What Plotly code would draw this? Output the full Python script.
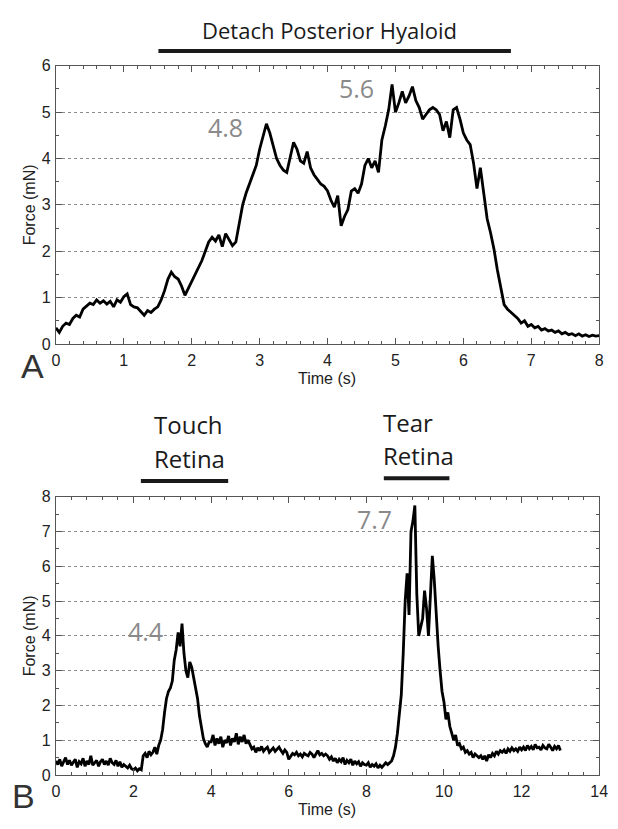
import plotly.graph_objects as go

W, H = 618, 829

# ---------------- data ----------------
dt_a = 0.05
force_a = [
    0.35, 0.25, 0.38, 0.45, 0.42, 0.55, 0.62, 0.58, 0.75, 0.82,
    0.88, 0.85, 0.95, 0.88, 0.93, 0.86, 0.92, 0.80, 0.95, 0.90,
    1.02, 1.08, 0.85, 0.80, 0.78, 0.70, 0.62, 0.72, 0.68, 0.75,
    0.80, 0.95, 1.15, 1.40, 1.55, 1.45, 1.40, 1.25, 1.05, 1.20,
    1.35, 1.50, 1.62, 1.80, 2.00, 2.20, 2.30, 2.22, 2.35, 2.10,
    2.38, 2.25, 2.12, 2.20, 2.60, 3.00, 3.25, 3.45, 3.65, 3.85,
    4.20, 4.45, 4.75, 4.55, 4.30, 4.00, 3.85, 3.75, 3.70, 4.05,
    4.35, 4.20, 3.95, 3.90, 4.15, 3.80, 3.65, 3.55, 3.45, 3.40,
    3.30, 3.10, 2.95, 3.20, 2.55, 2.75, 2.90, 3.30, 3.35, 3.25,
    3.45, 3.85, 4.00, 3.80, 3.95, 3.70, 4.40, 4.70, 5.05, 5.60,
    5.00, 5.20, 5.45, 5.20, 5.35, 5.55, 5.25, 5.10, 4.85, 4.95,
    5.05, 5.10, 5.05, 4.95, 4.60, 4.80, 4.45, 5.05, 5.10, 4.85,
    4.55, 4.40, 4.30, 3.90, 3.35, 3.80, 3.20, 2.70, 2.40, 2.05,
    1.60, 1.20, 0.85, 0.75, 0.68, 0.60, 0.55, 0.45, 0.50, 0.38,
    0.42, 0.35, 0.38, 0.30, 0.33, 0.28, 0.30, 0.25, 0.28, 0.22,
    0.25, 0.20, 0.22, 0.18, 0.22, 0.17, 0.20, 0.16, 0.19, 0.17,
    0.18,
]
time_a = [round(i * dt_a, 2) for i in range(len(force_a))]

dt_b = 0.05
force_b = [
    # 0.00 - 1.95
    0.40, 0.30, 0.45, 0.25, 0.38, 0.50, 0.30, 0.42, 0.28, 0.35,
    0.45, 0.22, 0.38, 0.32, 0.48, 0.25, 0.40, 0.30, 0.55, 0.28,
    0.35, 0.42, 0.25, 0.38, 0.45, 0.30, 0.40, 0.28, 0.48, 0.35,
    0.30, 0.42, 0.25, 0.38, 0.22, 0.30, 0.25, 0.20, 0.28, 0.18,
    # 2.00 - 2.95
    0.15, 0.20, 0.12, 0.18, 0.15,
    0.55, 0.62, 0.50, 0.68, 0.58, 0.65, 0.80, 0.60, 0.85, 1.00,
    1.30, 1.80, 2.20, 2.40, 2.50,
    # 3.00 - 3.95
    2.70, 3.30, 3.60, 4.10, 3.70, 4.35, 3.50, 3.00, 2.80, 3.25,
    3.10, 2.80, 2.50, 2.20, 1.70, 1.30, 1.05, 0.90, 0.80, 0.95,
    # 4.00 - 4.95
    0.95, 1.15, 0.85, 1.05, 0.90, 1.10, 0.80, 1.00, 0.92, 1.12,
    0.85, 1.05, 0.95, 1.20, 0.88, 1.10, 0.95, 1.15, 0.90, 1.00,
    # 5.00 - 5.95
    0.85, 0.75, 0.80, 0.65, 0.78, 0.70, 0.82, 0.68, 0.75, 0.80,
    0.65, 0.72, 0.78, 0.68, 0.74, 0.80, 0.70, 0.62, 0.72, 0.65,
    # 6.00 - 6.95
    0.45, 0.55, 0.62, 0.58, 0.65, 0.55, 0.60, 0.52, 0.62, 0.58,
    0.55, 0.65, 0.60, 0.50, 0.62, 0.70, 0.58, 0.62, 0.55, 0.60,
    # 7.00 - 7.95
    0.55, 0.45, 0.52, 0.40, 0.48, 0.35, 0.45, 0.38, 0.50, 0.30,
    0.42, 0.35, 0.45, 0.28, 0.40, 0.32, 0.38, 0.25, 0.35, 0.30,
    # 8.00 - 8.95
    0.28, 0.35, 0.22, 0.30, 0.25, 0.32, 0.20, 0.28, 0.22, 0.30,
    0.35, 0.30, 0.35, 0.40, 0.55, 0.80, 1.20, 1.70, 2.30, 3.50,
    # 9.00 - 9.95
    5.00, 5.80, 4.60, 7.00, 7.30, 7.75, 5.20, 4.00, 4.30, 4.50,
    5.30, 4.80, 4.00, 5.20, 6.30, 5.60, 4.60, 3.70, 3.00, 2.40,
    # 10.00 - 10.95
    2.10, 1.60, 1.80, 1.40, 1.20, 1.00, 1.15, 0.85, 0.90, 0.75,
    0.80, 0.65, 0.70, 0.60, 0.65, 0.50, 0.60, 0.55, 0.50, 0.55,
    # 11.00 - 11.95
    0.45, 0.55, 0.40, 0.58, 0.50, 0.62, 0.55, 0.68, 0.60, 0.70,
    0.65, 0.72, 0.62, 0.75, 0.68, 0.78, 0.70, 0.75, 0.68, 0.80,
    # 12.00 - 12.95
    0.72, 0.80, 0.70, 0.85, 0.75, 0.82, 0.72, 0.88, 0.78, 0.80,
    0.72, 0.85, 0.78, 0.75, 0.88, 0.80, 0.70, 0.82, 0.75, 0.85,
    # 13.00
    0.70,
]
time_b = [round(i * dt_b, 2) for i in range(len(force_b))]

peaks_a = [("4.8", 2.5, 4.69), ("5.6", 4.42, 5.53)]
peaks_b = [("4.4", 2.32, 4.14), ("7.7", 8.2, 7.37)]

event_a = ("Detach Posterior Hyaloid", 1.51, 6.70)
events_b = [("Touch", 2.19, 4.44), ("Tear", 8.45, 10.14)]

# ---------------- figure ----------------
def px(x):
    return x / W

def py(y):
    return 1 - y / H

xdom = [px(53), px(608)]
ydom_a = [py(343), py(59)]
ydom_b = [py(783), py(499)]

tick_font = dict(family="Liberation Sans, Arial, sans-serif", size=16, color="#222")
label_font = dict(family="Liberation Sans, Arial, sans-serif", size=16, color="#222")
hum_font = dict(family="Open Sans, Noto Sans, sans-serif", size=22, color="#1a1a1a")
gray_font = dict(family="Open Sans, Noto Sans, sans-serif", size=25, color="#8a8a8a")
letter_font = dict(family="Liberation Sans Narrow, Liberation Sans, sans-serif", size=34, color="#333")

fig = go.Figure()
fig.add_trace(go.Scatter(x=time_a, y=force_a, mode="lines", line=dict(color="black", width=2.8),
                         xaxis="x", yaxis="y", showlegend=False))
fig.add_trace(go.Scatter(x=time_b, y=force_b, mode="lines", line=dict(color="black", width=2.8),
                         xaxis="x2", yaxis="y2", showlegend=False))

axis_common = dict(
    showline=True, linecolor="#555", linewidth=1.2, mirror="allticks",
    ticks="inside", ticklen=6, tickcolor="#555", tickwidth=1,
    tickfont=tick_font, zeroline=False, ticklabeloverflow="allow",
)

fig.update_layout(
    width=W, height=H,
    margin=dict(l=0, r=0, t=0, b=0),
    paper_bgcolor="white", plot_bgcolor="white",
    xaxis=dict(domain=xdom, anchor="y", range=[0, 8], dtick=1, showgrid=False, ticklabelstandoff=2,
               minor=dict(dtick=0.2, ticklen=3, ticks="inside", tickcolor="#555"), **axis_common),
    yaxis=dict(domain=ydom_a, anchor="x", range=[0, 6], dtick=1, showgrid=True, ticklabelstandoff=1,
               gridcolor="#8c8c8c", griddash="dot", gridwidth=1,
               minor=dict(dtick=0.5, ticklen=3, ticks="inside", tickcolor="#555", showgrid=False), **axis_common),
    xaxis2=dict(domain=xdom, anchor="y2", range=[0, 14], dtick=2, showgrid=False, ticklabelstandoff=2,
                minor=dict(dtick=0.4, ticklen=3, ticks="inside", tickcolor="#555"), **axis_common),
    yaxis2=dict(domain=ydom_b, anchor="x2", range=[0, 8], dtick=1, showgrid=True, ticklabelstandoff=1,
                gridcolor="#8c8c8c", griddash="dot", gridwidth=1,
                minor=dict(dtick=0.5, ticklen=3, ticks="inside", tickcolor="#555", showgrid=False), **axis_common),
)

ann = []
for ycen, yaxis_mid in [(378, (59 + 343) / 2), (818, (499 + 783) / 2)]:
    ann.append(dict(text="Time (s)", x=px(330), y=py(ycen), xref="paper", yref="paper",
                    showarrow=False, font=label_font, xanchor="center", yanchor="middle"))
    ann.append(dict(text="Force (mN)", x=px(26), y=py(yaxis_mid), xref="paper", yref="paper",
                    showarrow=False, font=label_font, textangle=-90, xanchor="center", yanchor="middle"))
ann.append(dict(text="A", x=px(29), y=py(366), xref="paper", yref="paper", showarrow=False,
                font=letter_font, xanchor="center", yanchor="middle"))
ann.append(dict(text="B", x=px(20), y=py(805), xref="paper", yref="paper", showarrow=False,
                font=letter_font, xanchor="center", yanchor="middle"))
ann.append(dict(text=event_a[0], x=px(332), y=py(22), xref="paper", yref="paper", showarrow=False,
                font=hum_font, xanchor="center", yanchor="middle"))
big_font = dict(hum_font, size=24)
ann.append(dict(text="Touch", x=px(188), y=py(425), xref="paper", yref="paper", showarrow=False,
                font=big_font, xanchor="center", yanchor="middle"))
ann.append(dict(text="Retina", x=px(189), y=py(460), xref="paper", yref="paper", showarrow=False,
                font=big_font, xanchor="center", yanchor="middle"))
ann.append(dict(text="Tear", x=px(385), y=py(423), xref="paper", yref="paper", showarrow=False,
                font=big_font, xanchor="left", yanchor="middle"))
ann.append(dict(text="Retina", x=px(385), y=py(457), xref="paper", yref="paper", showarrow=False,
                font=big_font, xanchor="left", yanchor="middle"))
for t, x, y in peaks_a:
    ann.append(dict(text=t, x=x, y=y, xref="x", yref="y", showarrow=False, font=gray_font,
                    xanchor="center", yanchor="middle"))
for t, x, y in peaks_b:
    ann.append(dict(text=t, x=x, y=y, xref="x2", yref="y2", showarrow=False, font=gray_font,
                    xanchor="center", yanchor="middle"))
fig.update_layout(annotations=ann)

shapes = [
    dict(type="line", xref="x", yref="paper", x0=event_a[1], x1=event_a[2], y0=py(44), y1=py(44),
         line=dict(color="#1a1a1a", width=4)),
    dict(type="line", xref="x2", yref="paper", x0=events_b[0][1], x1=events_b[0][2], y0=py(483), y1=py(483),
         line=dict(color="#1a1a1a", width=4)),
    dict(type="line", xref="x2", yref="paper", x0=events_b[1][1], x1=events_b[1][2], y0=py(480), y1=py(480),
         line=dict(color="#1a1a1a", width=4)),
]
fig.update_layout(shapes=shapes)

fig.write_html("out.html", config={"displayModeBar": False},
               post_script="document.body.style.margin='0';document.body.style.overflow='hidden';")
